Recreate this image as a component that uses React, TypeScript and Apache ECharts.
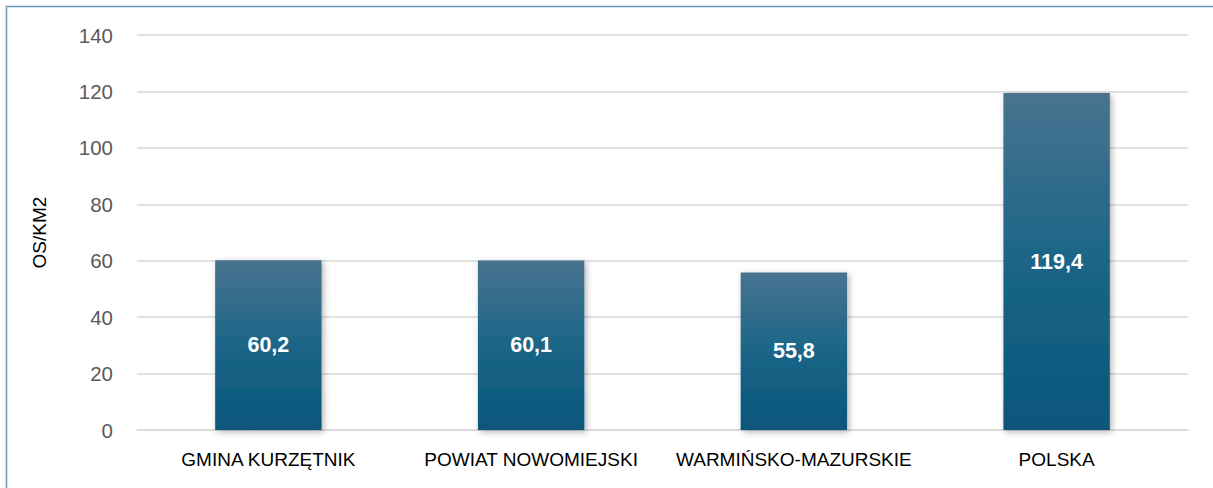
import React, { useEffect, useRef } from "react";
import * as echarts from "echarts";

const categories = ["GMINA KURZĘTNIK", "POWIAT NOWOMIEJSKI", "WARMIŃSKO-MAZURSKIE", "POLSKA"];
const values = [60.2, 60.1, 55.8, 119.4];
const yTicks = { min: 0, max: 140, interval: 20 };
const yName = "OS/KM2";

export default function App() {
  const ref = useRef<HTMLDivElement>(null);
  useEffect(() => {
    if (!ref.current) return;
    const chart = echarts.init(ref.current, null, { renderer: "svg" });
    chart.setOption({
      animation: false,
      backgroundColor: "#ffffff",
      grid: { left: 137, right: 25, top: 35, bottom: 58 },
      graphic: [
        {
          type: "rect",
          shape: { x: 6.5, y: 6.5, width: 1400, height: 700 },
          style: { fill: "none", stroke: "#6a9cba", lineWidth: 1.5 },
          silent: true,
          z: 100,
        },
      ],
      xAxis: {
        type: "category",
        data: categories,
        axisLine: { show: true, lineStyle: { color: "#d9d9d9", width: 1.5 } },
        axisTick: { show: false },
        axisLabel: {
          interval: 0,
          color: "#000000",
          fontSize: 19,
          fontFamily: "Liberation Sans",
          margin: 20,
        },
      },
      yAxis: {
        type: "value",
        min: yTicks.min,
        max: yTicks.max,
        interval: yTicks.interval,
        name: yName,
        nameLocation: "middle",
        nameGap: 88,
        nameRotate: 90,
        nameTextStyle: { color: "#000000", fontSize: 19, fontFamily: "Liberation Sans" },
        axisLine: { show: false },
        axisTick: { show: false },
        splitLine: { lineStyle: { color: "#d9d9d9", width: 1.5 } },
        axisLabel: {
          color: "#595959",
          fontSize: 20.5,
          fontFamily: "Liberation Sans",
          margin: 24,
        },
      },
      series: [
        {
          type: "bar",
          data: values,
          barWidth: "40.5%",
          itemStyle: {
            color: new echarts.graphic.LinearGradient(0, 0, 0, 1, [
              { offset: 0, color: "#48738f" },
              { offset: 0.5, color: "#1b6587" },
              { offset: 1, color: "#08567a" },
            ]),
            shadowBlur: 6,
            shadowColor: "rgba(0,0,0,0.3)",
            shadowOffsetX: 2,
            shadowOffsetY: 2,
          },
          label: {
            show: true,
            position: "inside",
            color: "#ffffff",
            fontSize: 21.5,
            fontWeight: "bold",
            fontFamily: "Liberation Sans",
            formatter: (p: any) => String(p.value).replace(".", ","),
          },
        },
      ],
    });
    return () => chart.dispose();
  }, []);
  return (
    <div
      ref={ref}
      style={{ position: "absolute", left: 0, top: 0, width: 1213, height: 488 }}
    />
  );
}
